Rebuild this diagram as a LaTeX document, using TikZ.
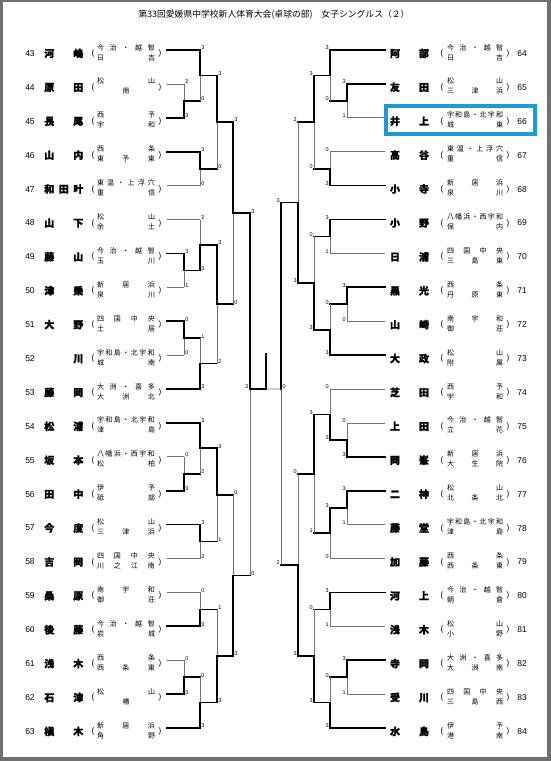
\documentclass[tikz,border=0pt]{standalone}
\usepackage{fontspec}
\setmainfont{Liberation Sans}
\newfontfamily\jp{Noto Sans CJK JP}
\newfontfamily\jpn{Noto Sans CJK JP}[BoldFeatures={FakeBold=1.6}]
\usetikzlibrary{calc}
\definecolor{hl}{RGB}{30,155,215}
\definecolor{frm}{RGB}{112,112,112}
\def\distA#1{\ifx\relax#1\else #1\expandafter\distB\fi}
\def\distB#1{\ifx\relax#1\else\hfill #1\expandafter\distB\fi}
\def\jr{0.5}
\def\sdx{1.2}
\tikzset{
 wline/.style={line width=1.7pt, line cap=rect},
 lline/.style={line width=0.75pt, draw=black!55},
 num/.style={inner sep=0pt, font=\fontsize{8.5}{10}\selectfont},
 nm/.style={inner sep=0pt, font=\jpn\bfseries\fontsize{10}{12}\selectfont, text height=8.6pt, text depth=1.2pt},
 par/.style={inner sep=0pt, font=\fontsize{8}{9}\selectfont},
 sch/.style={inner sep=0pt, font=\jp\fontsize{7}{8}\selectfont, text height=6pt, text depth=1pt},
 scL/.style={inner sep=0pt, anchor=west, font=\fontsize{5.5}{6}\selectfont},
 scR/.style={inner sep=0pt, anchor=east, font=\fontsize{5.5}{6}\selectfont},
 sc/.style={scL},
}
\newcommand\plL[5]{%
 \coordinate (pL#2) at (167,{50+33.9*#1});
 \node[num] (nL#2) at (30,{53.5+33.9*#1}) {#2};
 \node[nm] (mL#2) at (63.8,{53.5+33.9*#1}) {\hbox to 39pt{\distA#3\relax}};
 \node[par] (oL#2) at (93,{53.5+33.9*#1}) {(};
 \node[sch] (aL#2) at (126,{47.5+33.9*#1}) {\hbox to 58pt{\distA#4\relax}};
 \node[sch] (bL#2) at (126,{57.5+33.9*#1}) {\hbox to 58pt{\distA#5\relax}};
 \node[par] (cL#2) at (160,{53.5+33.9*#1}) {)};
}
\newcommand\plR[5]{%
 \coordinate (pR#2) at (385,{50+33.9*#1});
 \node[num] (nR#2) at (522,{53.5+33.9*#1}) {#2};
 \node[nm] (mR#2) at (409.5,{53.5+33.9*#1}) {\hbox to 39pt{\distA#3\relax}};
 \node[par] (oR#2) at (442,{53.5+33.9*#1}) {(};
 \node[sch] (aR#2) at (475,{47.5+33.9*#1}) {\hbox to 56pt{\distA#4\relax}};
 \node[sch] (bR#2) at (475,{57.5+33.9*#1}) {\hbox to 56pt{\distA#5\relax}};
 \node[par] (cR#2) at (508,{53.5+33.9*#1}) {)};
}
% #1 x, #2 A, #3 B, #4 J, #5 score A, #6 score B, #7 winner, #8 style A, #9 style B
\newcommand\mt[9]{%
 \coordinate (#4x) at (#1,0);
 \coordinate (#4a) at (#2 -| #4x);
 \coordinate (#4b) at (#3 -| #4x);
 \coordinate (#4) at ($(#4a)!\jr!(#4b)$);
 \draw[#8] (#2) -- (#4a);
 \draw[#9] (#3) -- (#4b);
 \ifnum#7=1 \draw[lline] (#4b) -- (#4); \draw[wline] (#4a) -- (#4);
 \else \draw[lline] (#4a) -- (#4); \draw[wline] (#4b) -- (#4); \fi
 \node[sc] (#4sa) at ($(#4a)+(\sdx,-2)$) {#5};
 \node[sc] (#4sb) at ($(#4b)+(\sdx,-2)$) {#6};
}
\begin{document}
\begin{tikzpicture}[x=1pt,y=-1pt]
\useasboundingbox (0,0) rectangle (551,761);
\fill[frm] (0,0) rectangle (551,761);
\fill[white] (3,2) rectangle (547,757);
\node[font=\jp\fontsize{8.8}{10}\selectfont, inner sep=0pt] (title) at (274,15) {第33回愛媛県中学校新人体育大会(卓球の部)　女子シングルス（２）};
% left players
\plL{0}{43}{河嶋}{今治・越智}{日吉}
\plL{1}{44}{原田}{松山}{{\hfill 南\hfill}}
\plL{2}{45}{長尾}{西予}{宇和}
\plL{3}{46}{山内}{西条}{東予東}
\plL{4}{47}{和田叶}{東温・上浮穴}{重信}
\plL{5}{48}{山下}{松山}{余土}
\plL{6}{49}{藤山}{今治・越智}{玉川}
\plL{7}{50}{津乗}{新居浜}{泉川}
\plL{8}{51}{大野}{四国中央}{土居}
\plL{9}{52}{{\hfill 川}}{宇和島・北宇和}{城南}
\plL{10}{53}{藤岡}{大洲・喜多}{大洲北}
\plL{11}{54}{松浦}{宇和島・北宇和}{津島}
\plL{12}{55}{坂本}{八幡浜・西宇和}{松柏}
\plL{13}{56}{田中}{伊予}{砥部}
\plL{14}{57}{今度}{松山}{三津浜}
\plL{15}{58}{吉岡}{四国中央}{川之江南}
\plL{16}{59}{桑原}{南宇和}{御荘}
\plL{17}{60}{後藤}{今治・越智}{岩城}
\plL{18}{61}{浅木}{西条}{西条東}
\plL{19}{62}{石津}{松山}{{\hfill 椿\hfill}}
\plL{20}{63}{槇木}{新居浜}{角野}
% right players
\plR{0}{64}{阿部}{今治・越智}{日吉}
\plR{1}{65}{友田}{松山}{三津浜}
\plR{2}{66}{井上}{宇和島・北宇和}{城東}
\plR{3}{67}{高谷}{東温・上浮穴}{重信}
\plR{4}{68}{小寺}{新居浜}{泉川}
\plR{5}{69}{小野}{八幡浜・西宇和}{保内}
\plR{6}{70}{日浦}{四国中央}{三島東}
\plR{7}{71}{黒光}{西条}{丹原東}
\plR{8}{72}{山崎}{南宇和}{御荘}
\plR{9}{73}{大政}{松山}{附属}
\plR{10}{74}{芝田}{西予}{宇和}
\plR{11}{75}{上田}{今治・越智}{立花}
\plR{12}{76}{岡峯}{新居浜}{大生院}
\plR{13}{77}{二神}{松山}{北条北}
\plR{14}{78}{藤堂}{宇和島・北宇和}{津島}
\plR{15}{79}{加藤}{西条}{西条東}
\plR{16}{80}{河上}{今治・越智}{朝倉}
\plR{17}{81}{浅木}{松山}{小野}
\plR{18}{82}{寺岡}{大洲・喜多}{大洲南}
\plR{19}{83}{受川}{四国中央}{三島西}
\plR{20}{84}{水島}{伊予}{港南}
% left bracket
\tikzset{sc/.style={scL}}\def\sdx{1.2}
\mt{184}{pL44}{pL45}{jl1}{2}{3}{2}{lline}{wline}
\mt{184}{pL49}{pL50}{jl2}{3}{1}{1}{wline}{lline}
\mt{184}{pL51}{pL52}{jl3}{0}{0}{1}{wline}{lline}
\mt{184}{pL55}{pL56}{jl4}{0}{3}{2}{lline}{wline}
\mt{184}{pL61}{pL62}{jl5}{0}{3}{2}{lline}{wline}
\mt{200}{pL43}{jl1}{jl6}{3}{0}{1}{wline}{wline}
\mt{200}{pL46}{pL47}{jl7}{3}{0}{1}{wline}{lline}
\mt{200}{pL48}{jl2}{jl8}{2}{3}{2}{lline}{wline}
\mt{200}{jl3}{pL53}{jl9}{1}{3}{2}{wline}{wline}
\mt{200}{pL54}{jl4}{jl10}{3}{2}{1}{wline}{wline}
\mt{200}{pL57}{pL58}{jl11}{3}{2}{1}{wline}{lline}
\mt{200}{pL59}{pL60}{jl12}{0}{3}{2}{lline}{wline}
\mt{200}{jl5}{pL63}{jl13}{0}{3}{2}{wline}{wline}
\mt{217}{jl6}{jl7}{jl14}{3}{0}{1}{wline}{wline}
\mt{217}{jl8}{jl9}{jl15}{3}{2}{1}{wline}{wline}
\mt{217}{jl10}{jl11}{jl16}{3}{1}{1}{wline}{wline}
\mt{217}{jl12}{jl13}{jl17}{1}{3}{2}{wline}{wline}
\mt{233}{jl14}{jl15}{jl18}{3}{0}{1}{wline}{wline}
\mt{233}{jl16}{jl17}{jl19}{0}{3}{2}{wline}{wline}
\def\jr{0.4855}
\mt{250}{jl18}{jl19}{jlF}{3}{0}{1}{wline}{wline}
\def\jr{0.5}
% right bracket
\tikzset{sc/.style={scR}}\def\sdx{-1.2}
\mt{347}{pR65}{pR66}{jr1}{3}{1}{1}{wline}{lline}
\mt{347}{pR71}{pR72}{jr2}{3}{0}{1}{wline}{lline}
\mt{347}{pR75}{pR76}{jr3}{0}{3}{2}{lline}{wline}
\mt{347}{pR77}{pR78}{jr4}{3}{1}{1}{wline}{lline}
\mt{347}{pR82}{pR83}{jr5}{3}{1}{1}{wline}{lline}
\mt{330}{pR64}{jr1}{jr6}{3}{0}{1}{wline}{wline}
\mt{330}{pR67}{pR68}{jr7}{0}{3}{2}{lline}{wline}
\mt{330}{pR69}{pR70}{jr8}{3}{1}{1}{wline}{lline}
\mt{330}{jr2}{pR73}{jr9}{0}{3}{2}{wline}{wline}
\mt{330}{pR74}{jr3}{jr10}{0}{3}{2}{lline}{wline}
\mt{330}{jr4}{pR79}{jr11}{3}{0}{1}{wline}{lline}
\mt{330}{pR80}{pR81}{jr12}{3}{1}{1}{wline}{lline}
\mt{330}{jr5}{pR84}{jr13}{0}{3}{2}{wline}{wline}
\mt{314}{jr6}{jr7}{jr14}{3}{0}{1}{wline}{wline}
\mt{314}{jr8}{jr9}{jr15}{0}{3}{2}{wline}{wline}
\mt{314}{jr10}{jr11}{jr16}{3}{1}{1}{wline}{wline}
\mt{314}{jr12}{jr13}{jr17}{0}{3}{2}{wline}{wline}
\mt{298}{jr14}{jr15}{jr18}{2}{3}{2}{wline}{wline}
\mt{298}{jr16}{jr17}{jr19}{0}{3}{2}{wline}{wline}
\def\jr{0.5146}
\mt{281}{jr18}{jr19}{jrF}{3}{2}{1}{wline}{wline}
\def\jr{0.5}
% final
\coordinate (fmx) at (266,0);
\coordinate (fm) at (jlF -| fmx);
\coordinate (ftop) at ($(fm)+(0,-35)$);
\draw[lline] (jrF) -- (fm);
\draw[wline] (jlF) -- (fm);
\draw[wline] (fm) -- (ftop);
\node[scR] (fsl) at ($(jlF)+(-1.5,-2)$) {3};
\node[scL] (fsr) at ($(jrF)+(1.5,-2)$) {0};
% highlight
\draw[hl, line width=4pt] (386,106) rectangle (535,134);
\end{tikzpicture}
\end{document}
